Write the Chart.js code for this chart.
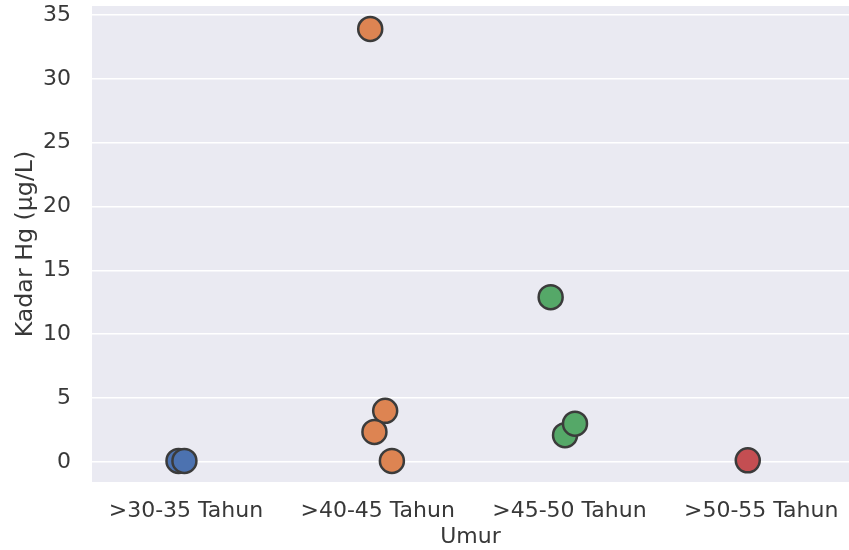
<!DOCTYPE html>
<html>
<head>
<meta charset="utf-8">
<script src="https://cdn.jsdelivr.net/npm/chart.js@4.4.1/dist/chart.umd.min.js"></script>
<style>
  html, body { margin: 0; padding: 0; background: #ffffff; }
  #wrap { width: 849px; height: 550px; }
</style>
</head>
<body>
<div id="wrap"><canvas id="c"></canvas></div>
<script>
// Age groups on the categorical x axis
const categories = ['>30-35 Tahun', '>40-45 Tahun', '>45-50 Tahun', '>50-55 Tahun'];

// Hg levels (µg/L) per age group
const hg3035 = [0.08, 0.08];
const hg4045 = [33.9, 4.0, 2.35, 0.08];
const hg4550 = [12.9, 2.1, 3.0];
const hg5055 = [0.13];

// Strip-plot jitter per point, in category units
const jit3035 = [-0.039, -0.008];
const jit4045 = [-0.039, 0.039, -0.017, 0.074];
const jit4550 = [-0.098, -0.023, 0.029];
const jit5055 = [-0.07];

const yTicks = [0, 5, 10, 15, 20, 25, 30, 35];

const groups = [hg3035, hg4045, hg4550, hg5055];
const jitters = [jit3035, jit4045, jit4550, jit5055];
const palette = ['#4c72b0', '#dd8452', '#55a868', '#c44e52'];

const datasets = groups.map((vals, i) => ({
  label: categories[i],
  data: vals.map((v, k) => ({ x: i + jitters[i][k], y: v })),
  backgroundColor: palette[i],
  borderColor: '#3b3b3b',
  borderWidth: 2.5,
  pointRadius: 12,
  pointHoverRadius: 12
}));

// Pale grey panel behind the plotting area
const panelBg = {
  id: 'panelBg',
  beforeDraw(chart) {
    const { ctx, chartArea: a } = chart;
    ctx.save();
    ctx.fillStyle = '#eaeaf2';
    ctx.fillRect(a.left, a.top, a.right - a.left, a.bottom - a.top);
    ctx.restore();
  }
};

const font = { family: 'DejaVu Sans', size: 22 };
const textColor = '#383838';

new Chart(document.getElementById('c'), {
  type: 'scatter',
  data: { datasets },
  options: {
    responsive: true,
    maintainAspectRatio: false,
    animation: false,
    layout: { autoPadding: false, padding: { top: 6, right: 0, left: 0, bottom: 0 } },
    plugins: { legend: { display: false }, tooltip: { enabled: false } },
    scales: {
      x: {
        type: 'linear',
        min: -0.49,
        max: 3.458,
        grid: { display: false },
        border: { display: false },
        ticks: {
          stepSize: 1,
          includeBounds: false,
          autoSkip: false,
          maxRotation: 0,
          padding: 8,
          color: textColor,
          font,
          callback: v => (Number.isInteger(v) && categories[v] !== undefined) ? categories[v] : ''
        },
        title: {
          display: true,
          text: 'Umur',
          color: textColor,
          font,
          padding: { top: 0, bottom: 0 }
        },
        afterFit(scale) {
          scale.height = 68;
          scale.paddingLeft = 0;
          scale.paddingRight = 0;
        }
      },
      y: {
        min: -1.57,
        max: 35.7,
        grid: { color: '#ffffff', lineWidth: 1.5, drawTicks: false },
        border: { display: false },
        afterBuildTicks(scale) { scale.ticks = yTicks.map(v => ({ value: v })); },
        ticks: {
          padding: 21,
          color: textColor,
          font
        },
        title: {
          display: true,
          text: 'Kadar Hg (μg/L)',
          color: textColor,
          font: { family: 'DejaVu Sans', size: 23.7 },
          padding: { top: 12, bottom: 0 }
        },
        afterFit(scale) {
          scale.width = 92;
          scale.paddingTop = 0;
          scale.paddingBottom = 0;
        }
      }
    }
  },
  plugins: [panelBg]
});
</script>
</body>
</html>
